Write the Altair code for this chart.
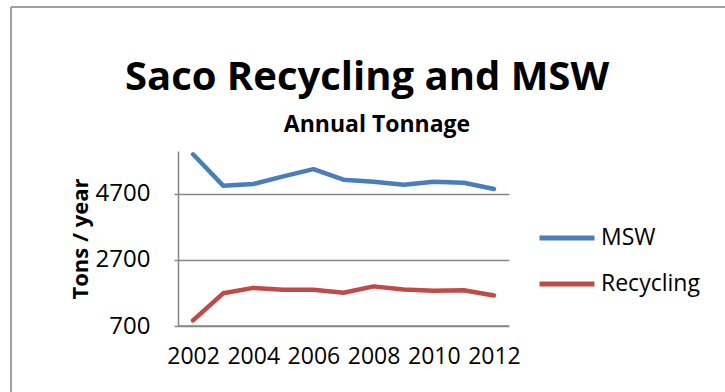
import altair as alt
import pandas as pd

# Annual tonnage, City of Saco
years = list(range(2002, 2013))
msw = [5900, 4950, 5000, 5230, 5450, 5130, 5070, 4980, 5070, 5040, 4850]
recycling = [870, 1690, 1855, 1795, 1800, 1705, 1900, 1805, 1765, 1785, 1625]

series_names = ["MSW", "Recycling"]
series_colors = ["#4A7EBB", "#BE4B48"]
y_ticks = [700, 2700, 4700]
x_ticks = [2002, 2004, 2006, 2008, 2010, 2012]

title_text = "Saco Recycling and MSW"
subtitle_text = "Annual Tonnage"

df = pd.DataFrame(
    {
        "year": years * 2,
        "tons": msw + recycling,
        "series": ["MSW"] * len(years) + ["Recycling"] * len(years),
    }
)

FONT = "Open Sans"
W, H = 331, 175
PAD_L, PAD_T = 178, 151

lines = (
    alt.Chart(df)
    .mark_line(strokeWidth=4.5, strokeCap="round", strokeJoin="round")
    .encode(
        x=alt.X(
            "year:O",
            scale=alt.Scale(padding=0.5),
            axis=alt.Axis(
                values=x_ticks,
                labelAngle=0,
                title=None,
                ticks=False,
                domain=False,
                labelFontSize=23,
                labelPadding=19,
                labelColor="#000000",
            ),
        ),
        y=alt.Y(
            "tons:Q",
            scale=alt.Scale(domain=[700, 6000], nice=False, zero=False),
            axis=alt.Axis(
                values=y_ticks,
                format="d",
                title="Tons / year",
                titleFontSize=22,
                titleFontWeight="bold",
                titleColor="#000000",
                titlePadding=3,
                labelFontSize=24,
                labelColor="#000000",
                labelPadding=24,
                tickSize=4,
                tickColor="#868686",
                tickWidth=1.5,
                domainColor="#868686",
                domainWidth=1.5,
                gridColor="#868686",
                gridWidth=1.5,
                gridOpacity=1,
            ),
        ),
        color=alt.Color(
            "series:N",
            scale=alt.Scale(domain=series_names, range=series_colors),
            legend=alt.Legend(
                title=None,
                orient="none",
                legendX=359,
                legendY=57,
                symbolType="stroke",
                symbolSize=3025,
                symbolStrokeWidth=5,
                labelFontSize=23,
                labelColor="#000000",
                labelOffset=4,
                rowPadding=4,
                padding=0,
            ),
        ),
    )
)

# bottom axis line at 700
base_line = (
    alt.Chart(pd.DataFrame({"v": [700]}))
    .mark_rule(color="#868686", strokeWidth=1.5)
    .encode(y="v:Q", x=alt.value(0), x2=alt.value(W))
)

# title and subtitle
title = (
    alt.Chart(pd.DataFrame({"t": [title_text]}))
    .mark_text(fontSize=40, fontWeight="bold", font=FONT, color="#000000",
               align="center", baseline="alphabetic")
    .encode(text="t:N", x=alt.value(189), y=alt.value(-61))
)
subtitle = (
    alt.Chart(pd.DataFrame({"t": [subtitle_text]}))
    .mark_text(fontSize=23, fontWeight="bold", font=FONT, color="#000000",
               align="center", baseline="alphabetic")
    .encode(text="t:N", x=alt.value(199), y=alt.value(-19))
)

# outer chart frame (left and top edges)
frame_left = alt.Chart(pd.DataFrame({"v": [0]})).mark_rule(
    color="#A0A0A0", strokeWidth=2
).encode(x=alt.value(-167), y=alt.value(-144), y2=alt.value(H + 70))
frame_top = alt.Chart(pd.DataFrame({"v": [0]})).mark_rule(
    color="#A0A0A0", strokeWidth=2
).encode(x=alt.value(-167), x2=alt.value(W + 220), y=alt.value(-144))

chart = (
    alt.layer(frame_left, frame_top, title, subtitle, base_line, lines)
    .properties(
        width=W,
        height=H,
        padding={"left": PAD_L, "top": PAD_T, "right": 725 - PAD_L - W, "bottom": 392 - PAD_T - H},
        autosize=alt.AutoSizeParams(type="none"),
    )
    .configure(font=FONT, background="#FFFFFF")
    .configure_view(stroke=None)
    .configure_axis(labelFont=FONT, titleFont=FONT, grid=True)
    .configure_axisX(grid=False)
    .configure_legend(labelFont=FONT)
)

chart.save("out.html", embed_options={"renderer": "svg", "actions": False})
